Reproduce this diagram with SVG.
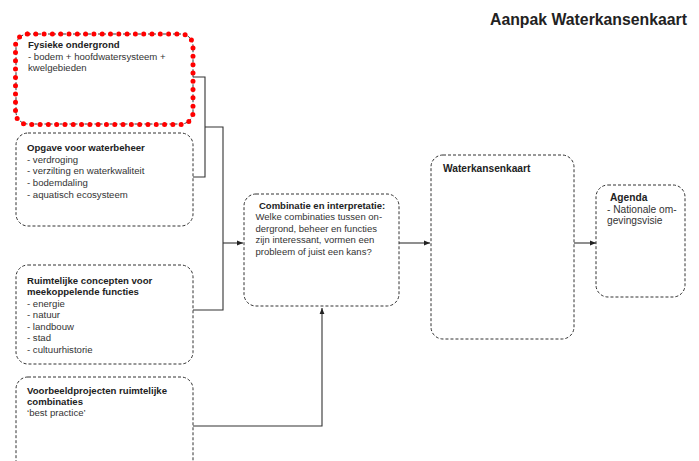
<svg xmlns="http://www.w3.org/2000/svg" width="699" height="461" viewBox="0 0 699 461">
<defs>
<style>
.box{fill:#fff;stroke:#333;stroke-width:1;stroke-dasharray:3 2}
.hl{fill:none;stroke:#f00;stroke-width:5;stroke-dasharray:0 8.3;stroke-linecap:round}
.t{font-family:"Liberation Sans",Arial,sans-serif;font-size:9.6px;fill:#333}
.tr{font-family:"Liberation Sans",Arial,sans-serif;font-size:10.2px;fill:#333}
.tc{font-family:"Liberation Sans",Arial,sans-serif;font-size:9.5px;fill:#333}
.b{font-weight:bold;fill:#222}
.ln{fill:none;stroke:#333;stroke-width:1.1}
</style>
<marker id="ah" viewBox="0 0 10 10" refX="10" refY="5" markerWidth="6" markerHeight="6" orient="auto" markerUnits="userSpaceOnUse">
<path d="M0,1 L10,5 L0,9 z" fill="#222"/>
</marker>
</defs>
<rect width="699" height="461" fill="#fff"/>
<text x="687" y="25" text-anchor="end" font-family="Liberation Sans,Arial,sans-serif" font-size="15.8px" font-weight="bold" fill="#222">Aanpak Waterkansenkaart</text>

<g id="connectors">
<polyline class="ln" points="193,77 205,77 205,177 193,177"/>
<polyline class="ln" points="205,127 223,127 223,310 193,310"/>
<line class="ln" x1="223" y1="243" x2="243" y2="243" marker-end="url(#ah)"/>
<polyline class="ln" points="193,426 322,426 322,308" marker-end="url(#ah)"/>
<line class="ln" x1="399" y1="243" x2="430" y2="243" marker-end="url(#ah)"/>
<line class="ln" x1="574" y1="243" x2="596" y2="243" marker-end="url(#ah)"/>
</g>

<g id="fysieke">
<rect class="box" x="16" y="34" width="177" height="90" rx="12"/>
<rect class="hl" x="15.5" y="34" width="177.5" height="90.5" rx="12"/>
<text class="t b" x="28" y="48">Fysieke ondergrond</text>
<text class="t" x="28" y="59.7">- bodem + hoofdwatersysteem +</text>
<text class="t" x="28" y="71.4">kwelgebieden</text>
</g>

<g id="opgave">
<rect class="box" x="16" y="133" width="177" height="93" rx="12"/>
<text class="t b" x="27" y="151">Opgave voor waterbeheer</text>
<text class="t" x="27" y="162.7">- verdroging</text>
<text class="t" x="27" y="174.4">- verzilting en waterkwaliteit</text>
<text class="t" x="27" y="186.1">- bodemdaling</text>
<text class="t" x="27" y="197.8">- aquatisch ecosysteem</text>
</g>

<g id="ruimtelijke">
<rect class="box" x="16" y="265" width="177" height="99" rx="12"/>
<text class="t b" x="27" y="283.5">Ruimtelijke concepten voor</text>
<text class="t b" x="27" y="295">meekoppelende functies</text>
<text class="t" x="27" y="306.5">- energie</text>
<text class="t" x="27" y="318">- natuur</text>
<text class="t" x="27" y="329.5">- landbouw</text>
<text class="t" x="27" y="341">- stad</text>
<text class="t" x="27" y="352.5">- cultuurhistorie</text>
</g>

<g id="voorbeeld">
<rect class="box" x="16" y="377" width="177" height="110" rx="12"/>
<text class="t b" x="27" y="393.5">Voorbeeldprojecten ruimtelijke</text>
<text class="t b" x="27" y="404.5">combinaties</text>
<text class="t" x="27" y="415.5">‘best practice’</text>
</g>

<g id="combinatie">
<rect class="box" x="244" y="194" width="155" height="112" rx="12"/>
<text class="tc b" x="259" y="208.5" font-size="9.9px">Combinatie en interpretatie:</text>
<text class="tc" x="255.5" y="220">Welke combinaties tussen on-</text>
<text class="tc" x="255.5" y="231.6">dergrond, beheer en functies</text>
<text class="tc" x="255.5" y="243.2">zijn interessant, vormen een</text>
<text class="tc" x="255.5" y="254.8">probleem of juist een kans?</text>
</g>

<g id="waterkansenkaart">
<rect class="box" x="431" y="155" width="143" height="184" rx="12"/>
<text class="tr b" x="443" y="172">Waterkansenkaart</text>
</g>

<g id="agenda">
<rect class="box" x="596" y="185" width="89" height="112" rx="12"/>
<text class="tr b" x="610" y="201" font-size="10.5px">Agenda</text>
<text class="tr" x="607" y="212.5" font-size="9.8px">- Nationale om-</text>
<text class="tr" x="607" y="224" font-size="9.8px">gevingsvisie</text>
</g>
</svg>
